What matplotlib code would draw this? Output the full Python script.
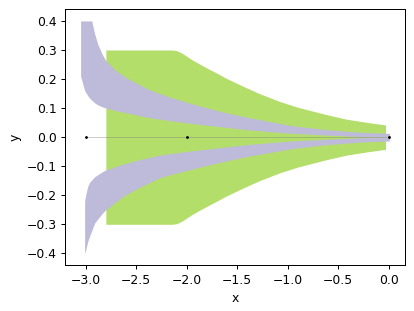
import matplotlib
matplotlib.use("Agg")
import matplotlib.pyplot as plt
import numpy as np

# green tube (symmetric about y=0)
green_x = [-2.80, -2.15, -2.10, -2.05, -1.94, -1.80, -1.71, -1.61, -1.44, -1.28,
           -1.08, -0.90, -0.62, -0.42, -0.20, -0.03]
green_half = [0.300, 0.300, 0.298, 0.290, 0.265, 0.238, 0.222, 0.203, 0.175, 0.150,
              0.123, 0.103, 0.078, 0.062, 0.050, 0.042]

# upper lavender band
up_x = [-3.05, -3.03, -3.01, -2.97, -2.94, -2.91, -2.88, -2.84, -2.80, -2.70, -2.60,
        -2.48, -2.37, -2.17, -1.97, -1.77, -1.57, -1.38, -1.18, -0.95, -0.62, -0.29, 0.01]
up_outer = [0.40, 0.40, 0.40, 0.40, 0.40, 0.355, 0.32, 0.288, 0.263, 0.229, 0.205,
            0.183, 0.163, 0.138, 0.117, 0.098, 0.081, 0.067, 0.054, 0.039, 0.026, 0.017, 0.013]
up_inner = [0.21, 0.185, 0.16, 0.138, 0.127, 0.118, 0.111, 0.105, 0.100, 0.091, 0.084,
            0.075, 0.067, 0.057, 0.048, 0.040, 0.032, 0.025, 0.019, 0.013, 0.007, 0.002, 0.0]

# lower lavender band
lo_x = [-3.01, -3.00, -2.98, -2.96, -2.91, -2.83, -2.80, -2.66, -2.60, -2.48, -2.27,
        -2.17, -1.97, -1.77, -1.57, -1.38, -1.18, -0.95, -0.62, -0.29, 0.01]
lo_outer = [-0.40, -0.39, -0.36, -0.34, -0.295, -0.26, -0.25, -0.212, -0.198, -0.175, -0.14,
            -0.13, -0.112, -0.095, -0.079, -0.065, -0.053, -0.039, -0.026, -0.017, -0.013]
lo_inner = [-0.22, -0.20, -0.17, -0.155, -0.136, -0.118, -0.113, -0.096, -0.090, -0.079, -0.062,
            -0.057, -0.048, -0.040, -0.032, -0.025, -0.019, -0.013, -0.007, -0.002, 0.0]

# waypoints
pts_x = [-3.0, -2.0, 0.0]
pts_y = [0.0, 0.0, 0.0]

DPI = 89
fig = plt.figure(figsize=(415 / DPI, 311 / DPI), dpi=DPI)
ax = fig.add_axes([0.157, 0.148, 0.819, 0.822])

gx = np.array(green_x)
gh = np.array(green_half)
ax.fill_between(gx, -gh, gh, color='#b3de69', lw=0)
ax.fill_between(up_x, up_inner, up_outer, color='#bebada', lw=0)
ax.fill_between(lo_x, lo_outer, lo_inner, color='#bebada', lw=0)

ax.plot(pts_x, pts_y, color='gray', lw=0.8, alpha=0.4)
ax.plot(pts_x, pts_y, '.', color='k', markersize=2.5)

ax.set_xlabel('x')
ax.set_ylabel('y')

fig.savefig('out.png', dpi=DPI)
